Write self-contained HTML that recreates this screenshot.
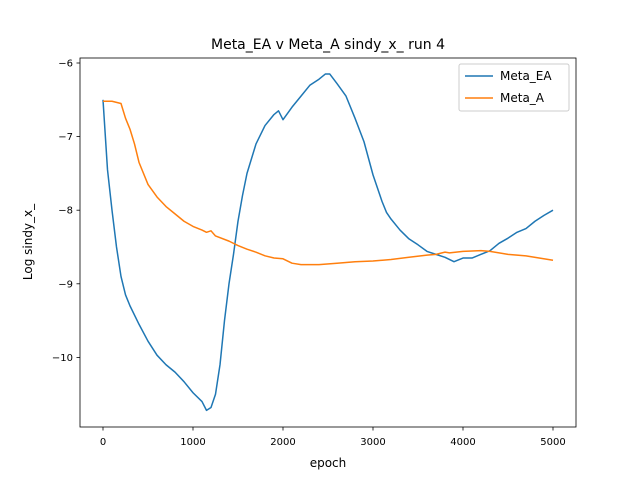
<!DOCTYPE html>
<html><head><meta charset="utf-8"><style>
body{margin:0;background:#fff;}
svg text{font-family:"DejaVu Sans","Liberation Sans",sans-serif;}
</style></head><body>
<svg id="chart" width="640" height="480" xmlns="http://www.w3.org/2000/svg">
<rect width="640" height="480" fill="#fff"/>
<text x="328" y="49" font-size="14" text-anchor="middle">Meta_EA v Meta_A sindy_x_ run 4</text>
<g id="plot"></g>
<rect x="80" y="58" width="496" height="369" fill="none" stroke="#000" stroke-width="0.8"/>
<text x="328" y="467" font-size="12" text-anchor="middle">epoch</text>
<text transform="translate(32,242) rotate(-90)" font-size="12" text-anchor="middle">Log sindy_x_</text>
<g>
<rect x="459" y="64" width="110" height="47" fill="#fff" stroke="#ccc" rx="2"/>
<line x1="465" y1="76" x2="493" y2="76" stroke="#1f77b4" stroke-width="1.5"/>
<text x="500" y="80" font-size="12">Meta_EA</text>
<line x1="465" y1="98" x2="493" y2="98" stroke="#ff7f0e" stroke-width="1.5"/>
<text x="500" y="102" font-size="12">Meta_A</text>
</g>
</svg>
<script>
const xTicks=[0,1000,2000,3000,4000,5000];
const yTicks=[-6,-7,-8,-9,-10];
const eaEpochs=[0,50,100,150,200,250,300,400,500,600,700,800,900,1000,1100,1150,1200,1250,1300,1350,1400,1450,1500,1550,1600,1700,1800,1900,1950,2000,2100,2200,2300,2400,2470,2520,2600,2700,2800,2900,3000,3100,3150,3200,3300,3400,3500,3600,3700,3800,3900,4000,4100,4200,4300,4400,4500,4600,4700,4800,4900,5000];
const eaValues=[-6.5,-7.45,-8.0,-8.5,-8.9,-9.15,-9.3,-9.55,-9.78,-9.97,-10.1,-10.2,-10.33,-10.48,-10.6,-10.72,-10.68,-10.5,-10.1,-9.5,-9.0,-8.6,-8.15,-7.8,-7.5,-7.1,-6.85,-6.7,-6.65,-6.77,-6.6,-6.45,-6.3,-6.22,-6.15,-6.15,-6.28,-6.45,-6.75,-7.07,-7.52,-7.88,-8.03,-8.12,-8.27,-8.39,-8.47,-8.56,-8.6,-8.64,-8.7,-8.65,-8.65,-8.6,-8.55,-8.45,-8.38,-8.3,-8.25,-8.15,-8.07,-8.0];
const aEpochs=[0,100,200,250,300,350,400,500,600,700,800,900,1000,1100,1150,1200,1250,1400,1500,1600,1700,1800,1900,2000,2100,2200,2400,2600,2800,3000,3200,3400,3600,3700,3800,3850,4000,4200,4300,4500,4700,5000];
const aValues=[-6.52,-6.52,-6.55,-6.75,-6.9,-7.1,-7.35,-7.65,-7.82,-7.95,-8.05,-8.15,-8.22,-8.27,-8.3,-8.28,-8.35,-8.42,-8.48,-8.53,-8.57,-8.62,-8.65,-8.66,-8.72,-8.74,-8.74,-8.72,-8.7,-8.69,-8.67,-8.64,-8.61,-8.6,-8.57,-8.58,-8.56,-8.55,-8.56,-8.6,-8.62,-8.68];
const X=v=>103+v*0.09;
const Y=v=>63+(-6-v)*73.6;
const NS='http://www.w3.org/2000/svg';
const g=document.getElementById('plot');
function mk(t,a){const e=document.createElementNS(NS,t);for(const k in a)e.setAttribute(k,a[k]);g.appendChild(e);return e;}
xTicks.forEach(t=>{
 const l=mk('line',{x1:X(t),x2:X(t),y1:427,y2:430.5,stroke:'#000','stroke-width':0.8});
 
 
 const tx=mk('text',{x:X(t),y:445,'font-size':10,'text-anchor':'middle'});tx.textContent=t;
 
 
});
yTicks.forEach(t=>{
 const l=mk('line',{x1:76.5,x2:80,y1:Y(t),y2:Y(t),stroke:'#000','stroke-width':0.8});
 
 
 const tx=mk('text',{x:73,y:Y(t)+3.5,'font-size':10,'text-anchor':'end'});tx.textContent='\u2212'+Math.abs(t);
 
 
});
function line(xs,ys,c,name){
 const p=mk('polyline',{points:xs.map((x,i)=>X(x)+','+Y(ys[i])).join(' '),fill:'none',stroke:c,'stroke-width':1.5,'stroke-linejoin':'round'});
 
 
}
line(eaEpochs,eaValues,'#1f77b4','series-meta-ea');
line(aEpochs,aValues,'#ff7f0e','series-meta-a');
</script>
</body></html>
